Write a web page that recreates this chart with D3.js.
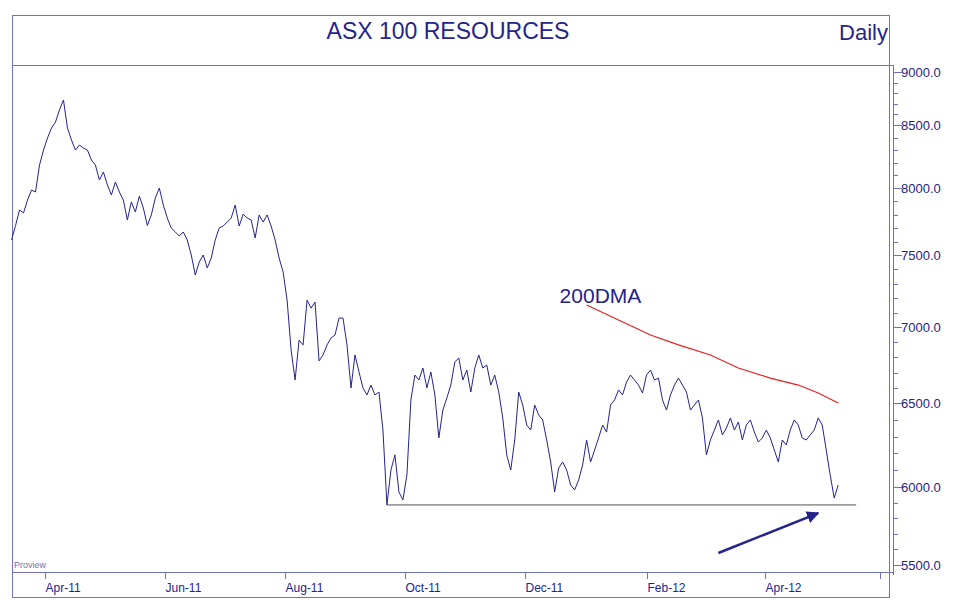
<!DOCTYPE html><html><head><meta charset="utf-8"><script src="https://cdn.jsdelivr.net/npm/d3@7"></script>
<style>body{margin:0;background:#fff}text{font-family:"Liberation Sans",Arial,sans-serif}</style></head><body><svg width="956" height="600"></svg>
<script>
const startDate = "2011-03-15";
const stepDays = 2.03;
const prices = [7612,7720,7836,7814,7910,7985,7970,8182,8301,8397,8476,8528,8642,8736,8476,8381,8301,8341,8317,8301,8222,8182,8063,8127,8024,7948,8048,7970,7910,7761,7896,7821,7940,7851,7720,7799,7925,8000,7873,7776,7701,7672,7642,7672,7612,7500,7361,7451,7500,7410,7479,7612,7701,7716,7746,7776,7873,7716,7806,7776,7761,7627,7799,7746,7799,7716,7612,7479,7382,7187,6849,6651,6914,6882,7187,7131,7173,6777,6816,6882,6928,6947,7062,7062,6882,6599,6816,6704,6599,6553,6618,6553,6572,6339,5885,6101,6191,5968,5917,6071,6520,6684,6651,6730,6599,6704,6553,6292,6458,6533,6618,6770,6796,6651,6717,6572,6730,6816,6730,6750,6618,6684,6572,6411,6191,6101,6280,6572,6488,6369,6339,6488,6429,6399,6280,6149,5968,6113,6149,6101,6012,5981,6042,6131,6280,6149,6220,6292,6369,6327,6488,6520,6586,6553,6638,6684,6651,6618,6566,6684,6717,6651,6664,6520,6458,6553,6618,6664,6618,6572,6458,6488,6520,6411,6191,6280,6339,6399,6310,6351,6411,6339,6387,6280,6369,6399,6327,6268,6292,6339,6292,6220,6149,6280,6250,6339,6399,6369,6292,6280,6310,6339,6411,6369,6220,6071,5929,6012];
const dmaIdx = [144,152,160,167,175,182,190,197,202,207];
const dmaVals = [7153,7049,6947,6882,6816,6730,6664,6618,6566,6500];
const supportLevel = 5885, supportFrom = 94, supportTo = 211.5;
const arrowIdx = [177,202], arrowVals = [5577,5833];
const yTicks = [5500,6000,6500,7000,7500,8000,8500,9000];
const xTickDates = ["2011-04-01","2011-06-01","2011-08-01","2011-10-01","2011-12-01","2012-02-01","2012-04-01"];
const xTickLabels = ["Apr-11","Jun-11","Aug-11","Oct-11","Dec-11","Feb-12","Apr-12"];

const navy="#24248a", frame="#7272b8";
const p=d3.timeParse("%Y-%m-%d");
const t0=p(startDate);
const dt=i=>new Date(+t0+i*stepDays*864e5);
const svg=d3.select("svg");
const x=d3.scaleTime().domain([p("2011-04-01"),p("2012-04-01")]).range([45,765]);
const y=d3.scaleLinear().domain(yTicks).range([565,487,403,327,255,188,125,72]);

svg.append("rect").attr("x",12.5).attr("y",15.5).attr("width",877).attr("height",582).attr("fill","none").attr("stroke",frame);
svg.append("line").attr("x1",12).attr("x2",893).attr("y1",65.5).attr("y2",65.5).attr("stroke",frame);
svg.append("line").attr("x1",12).attr("x2",893).attr("y1",572.5).attr("y2",572.5).attr("stroke",frame);
svg.append("text").attr("x",448).attr("y",39).attr("text-anchor","middle").attr("font-size",23).attr("fill",navy).text("ASX 100 RESOURCES");
svg.append("text").attr("x",888).attr("y",40).attr("text-anchor","end").attr("font-size",22).attr("fill",navy).text("Daily");
svg.append("text").attr("x",14).attr("y",568).attr("font-size",9).attr("fill",frame).text("Proview");

const ya=svg.append("g").attr("transform","translate(893,0)");
ya.append("line").attr("x1",0.5).attr("x2",0.5).attr("y1",65).attr("y2",575).attr("stroke",frame);
d3.range(5500,9001,100).forEach(v=>{
  const major=v%500===0;
  ya.append("line").attr("x1",0).attr("x2",major?9:5).attr("y1",Math.round(y(v))+0.5).attr("y2",Math.round(y(v))+0.5).attr("stroke",frame);
});
yTicks.forEach(v=>ya.append("text").attr("x",8).attr("y",y(v)+5).attr("font-size",13).attr("fill",navy).text(d3.format(".1f")(v)));

xTickDates.forEach((d,i)=>{
  const xx=Math.round(x(p(d)))+0.5;
  svg.append("line").attr("x1",xx).attr("x2",xx).attr("y1",572).attr("y2",579).attr("stroke",frame);
  svg.append("text").attr("x",xx).attr("y",592).attr("font-size",12).attr("fill",navy).text(xTickLabels[i]);
});
svg.append("line").attr("x1",880.5).attr("x2",880.5).attr("y1",572).attr("y2",579).attr("stroke",frame);

const line=d3.line().x(d=>x(d[0])).y(d=>y(d[1]));
svg.append("path").attr("d",line(prices.map((v,i)=>[dt(i),v]))).attr("fill","none").attr("stroke",navy).attr("stroke-width",1);
svg.append("path").attr("d",line(dmaIdx.map((k,i)=>[dt(k),dmaVals[i]]))).attr("fill","none").attr("stroke","#e82020").attr("stroke-width",1.2);
svg.append("line").attr("x1",x(dt(supportFrom))).attr("x2",x(dt(supportTo))).attr("y1",y(supportLevel)).attr("y2",y(supportLevel)).attr("stroke","#555").attr("stroke-width",1);
svg.append("text").attr("x",x(dt(dmaIdx[0]))-27).attr("y",y(dmaVals[0])-2).attr("font-size",21).attr("fill",navy).text("200DMA");

svg.append("defs").append("marker").attr("id","ah").attr("viewBox","0 0 10 10").attr("refX",9).attr("refY",5).attr("markerWidth",5).attr("markerHeight",5).attr("orient","auto")
 .append("path").attr("d","M0,0L10,5L0,10z").attr("fill",navy);
svg.append("line").attr("x1",x(dt(arrowIdx[0]))).attr("y1",y(arrowVals[0])).attr("x2",x(dt(arrowIdx[1]))).attr("y2",y(arrowVals[1])).attr("stroke",navy).attr("stroke-width",2.5).attr("marker-end","url(#ah)");
</script></body></html>
